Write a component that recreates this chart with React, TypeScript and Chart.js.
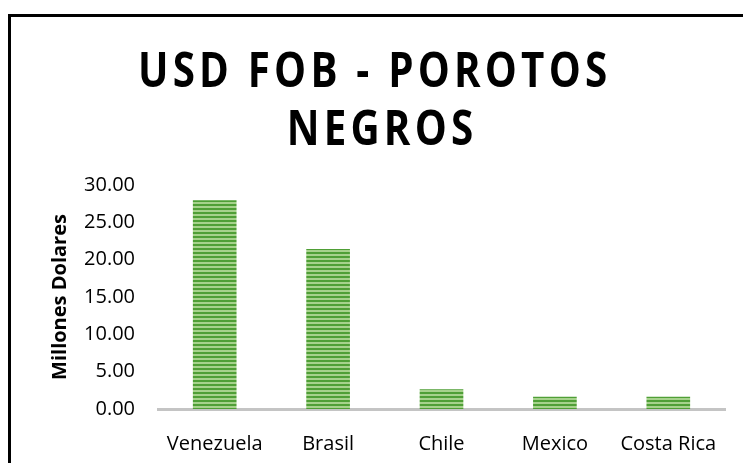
import React, { useEffect, useRef } from "react";
import { Chart, registerables } from "chart.js";

Chart.register(...registerables);

const categories = ["Venezuela", "Brasil", "Chile", "Mexico", "Costa Rica"];
const values = [27.9, 21.4, 2.6, 1.6, 1.6];
const titleLines = ["USD FOB - POROTOS ", "NEGROS"];
const yAxisTitle = "Millones Dolares";
const yMin = 0;
const yMax = 30;
const yStep = 5;

const W = 743;
const H = 463;
const FONT = '"Open Sans", "Liberation Sans", sans-serif';

function makeStripePattern(): CanvasPattern | string {
  const c = document.createElement("canvas");
  c.width = 4;
  c.height = 4;
  const g = c.getContext("2d");
  if (!g) return "#70ad47";
  g.fillStyle = "#4f9f36";
  g.fillRect(0, 0, 4, 2);
  g.fillStyle = "#a6d28c";
  g.fillRect(0, 2, 4, 2);
  const p = g.createPattern(c, "repeat");
  return p || "#70ad47";
}

const titlePlugin = {
  id: "spacedTitle",
  afterDraw(chart: any) {
    const ctx = chart.ctx as CanvasRenderingContext2D;
    const sx = 0.84;
    const cx = 382;
    const ys = [73, 131];
    ctx.save();
    ctx.font = `bold 48px ${FONT}`;
    (ctx as any).letterSpacing = "5px";
    ctx.fillStyle = "#000";
    ctx.textAlign = "center";
    ctx.textBaseline = "middle";
    ctx.scale(sx, 1);
    titleLines.forEach((line, i) => ctx.fillText(line, cx / sx, ys[i]));
    ctx.restore();
  },
};

export default function App() {
  const ref = useRef<HTMLCanvasElement | null>(null);

  useEffect(() => {
    if (!ref.current) return;
    const pattern = makeStripePattern();
    const chart = new Chart(ref.current, {
      type: "bar",
      data: {
        labels: categories,
        datasets: [
          {
            data: values,
            backgroundColor: pattern as any,
            borderWidth: 0,
            barThickness: 43,
          },
        ],
      },
      options: {
        responsive: false,
        animation: false,
        devicePixelRatio: 1,
        layout: { padding: { left: 40, right: W - 725, top: 185, bottom: 0 } },
        plugins: {
          legend: { display: false },
          title: { display: false },
          tooltip: { enabled: false },
        },
        scales: {
          x: {
            grid: { display: false, drawTicks: false },
            border: { display: true, color: "#c4c4c4", width: 3 },
            ticks: {
              padding: 23,
              color: "#000",
              font: { family: FONT, size: 20 },
              maxRotation: 0,
            },
            afterFit(scale: any) {
              scale.height = H - 409;
            },
          },
          y: {
            min: yMin,
            max: yMax,
            grid: { display: false, drawTicks: false },
            border: { display: false },
            ticks: {
              stepSize: yStep,
              padding: 23,
              color: "#000",
              font: { family: FONT, size: 20 },
              callback: (v: any) => Number(v).toFixed(2),
            },
            title: {
              display: true,
              text: yAxisTitle,
              color: "#000",
              font: { family: FONT, size: 20, weight: "bold" },
              padding: { top: 8, bottom: 0 },
            },
            afterFit(scale: any) {
              scale.width = 158 - 40;
            },
          },
        },
      },
      plugins: [titlePlugin],
    });
    return () => chart.destroy();
  }, []);

  return (
    <div
      style={{
        position: "fixed",
        left: 0,
        top: 0,
        width: W,
        height: H,
        overflow: "hidden",
        background: "#fff",
      }}
    >
      <canvas ref={ref} width={W} height={H} style={{ display: "block", width: W, height: H }} />
      <div
        style={{
          position: "absolute",
          left: 8,
          top: 14,
          width: 900,
          height: 700,
          border: "3px solid #000",
          pointerEvents: "none",
        }}
      />
    </div>
  );
}
